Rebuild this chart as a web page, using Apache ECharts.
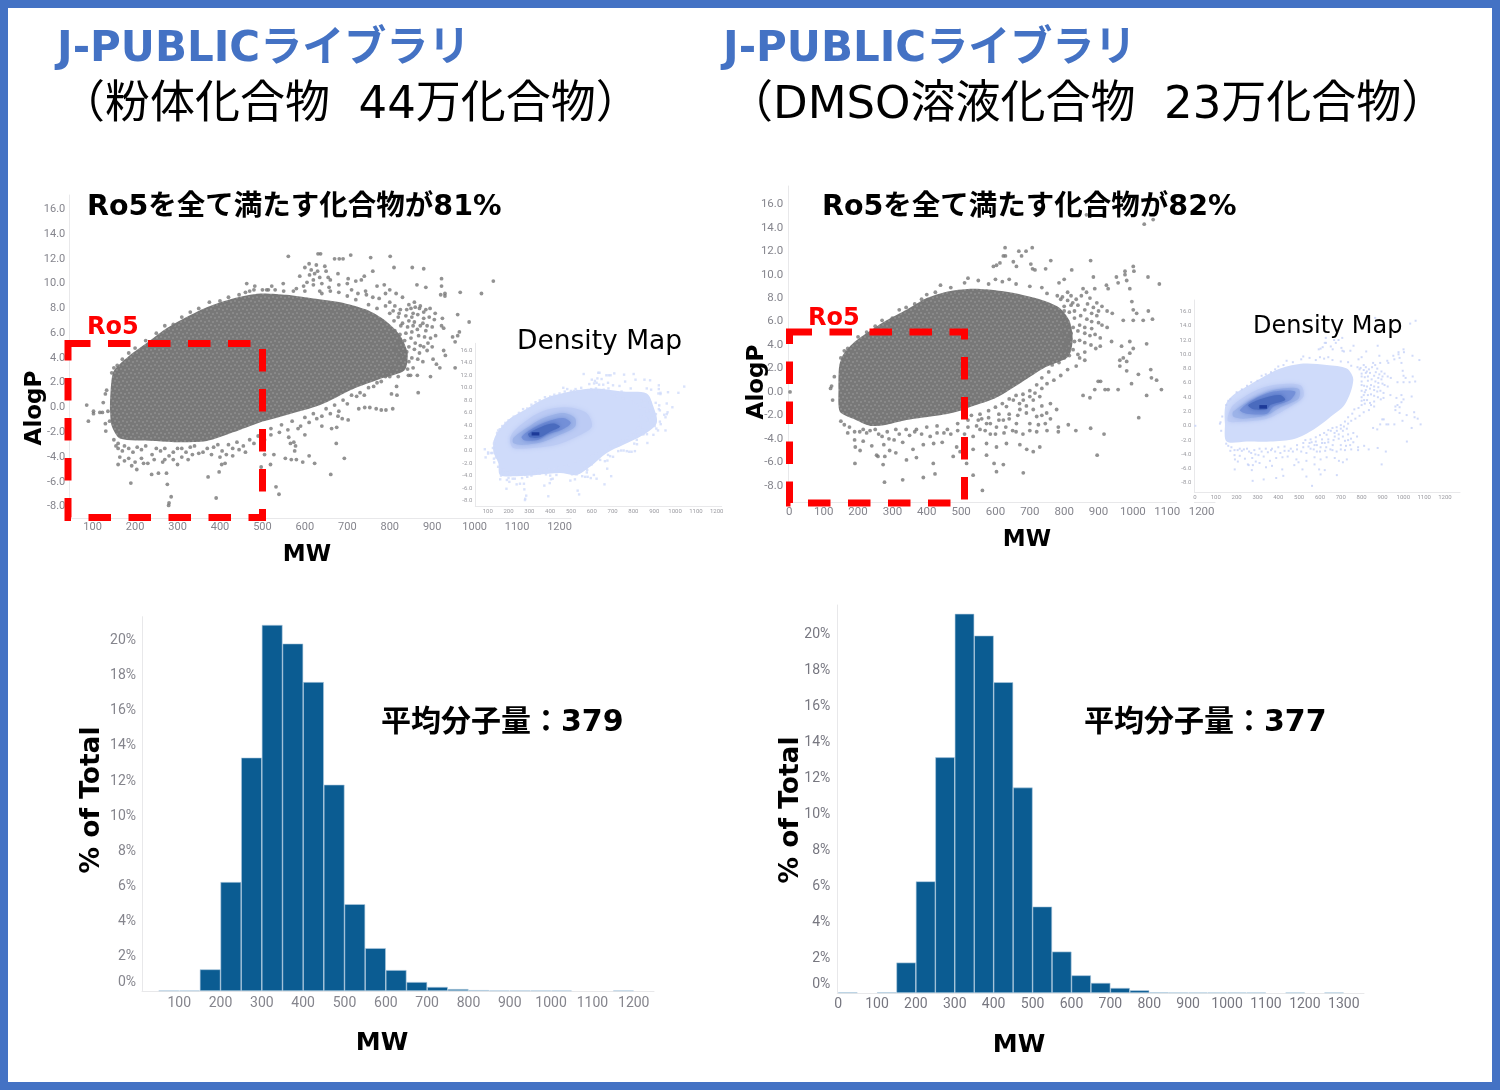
<!DOCTYPE html>
<html><head><meta charset="utf-8">
<script src="https://cdn.jsdelivr.net/npm/echarts@6/dist/echarts.min.js"></script>
<style>html,body{margin:0;padding:0;background:#fff}#c{width:1500px;height:1090px}</style>
</head><body><div id="c"></div>
<script>
// ---- values ----
const mwTicks = [100,200,300,400,500,600,700,800,900,1000,1100,1200];
const mwTicks0 = [0,100,200,300,400,500,600,700,800,900,1000,1100,1200];
const mwTicks13 = [0,100,200,300,400,500,600,700,800,900,1000,1100,1200,1300];
const logpTicks = [-8,-6,-4,-2,0,2,4,6,8,10,12,14,16];
const pctTicks = [0,2,4,6,8,10,12,14,16,18,20];

// histogram bins: [bin centre, % of total]
const histLeft = [[75,0.03],[125,0.03],[175,1.23],[225,6.2],[275,13.28],[325,20.83],[375,19.77],[425,17.58],[475,11.74],[525,4.94],[575,2.44],[625,1.19],[675,0.51],[725,0.23],[775,0.11],[825,0.05],[875,0.03],[925,0.03],[975,0.03],[1025,0.03],[1175,0.03]];
const histRight = [[25,0.04],[125,0.04],[175,1.69],[225,6.2],[275,13.09],[325,21.06],[375,19.85],[425,17.26],[475,11.41],[525,4.8],[575,2.3],[625,0.98],[675,0.56],[725,0.28],[775,0.15],[825,0.04],[875,0.03],[925,0.03],[975,0.03],[1025,0.03],[1075,0.03],[1175,0.03],[1275,0.03]];

// scatter cloud outlines [MW, AlogP]
const cloudLeft = [[142,1.16],[149,2.9],[180,4.0],[227,5.2],[270,6.3],[321,7.3],[369,8.1],[431,8.8],[494,9.2],[557,9.1],[620,8.8],[683,8.5],[745,7.9],[790,7.0],[825,5.8],[842,4.4],[835,3.0],[777,2.3],[714,1.5],[636,0.2],[557,-0.6],[494,-1.2],[431,-2.0],[369,-2.7],[298,-2.8],[243,-2.7],[164,-2.5],[145,-1.5],[141,-0.2]];
const cloudRight = [[145,2.2],[157,3.2],[191,4.3],[240,5.3],[283,6.1],[341,7],[400,8],[458,8.55],[526,8.8],[594,8.7],[661,8.4],[729,7.9],[785,7.2],[815,6.1],[825,4.5],[812,3],[745,2.1],[691,1.1],[632,0.0],[594,-0.6],[535,-1.2],[487,-1.7],[438,-2.0],[341,-2.4],[283,-2.8],[235,-2.9],[186,-2.3],[147,-1.7],[143,0.2]];

// individually visible points [MW, AlogP]
const pointsLeft = [[561,12.2],[631,12.4],[637,12.4],[670,12],[681,12],[690,12],[708,12.3],[755,12.1],[801,12.2],[810,11.3],[853,11.3],[880,11.2],[922,10.4],[922,9.8],[885,9.7],[864,9.9],[920,9.1],[930,9.2],[930,9],[966,9.3],[1016,9.2],[1044,10.2],[960,7.5],[987,6.9],[924,7.2],[922,6.6],[927,6.4],[907,7.6],[908,5.8],[948,5.7],[960,5.8],[954,5.3],[964,6.1],[927,4.6],[931,4.2],[902,3.9],[910,3.5],[918,3.2],[954,3.2],[896,2.5],[867,1.2],[844,2.6],[849,2.6],[865,2.6],[800,2.5],[820,2.5],[816,1.7],[804,1.1],[817,1.0],[727,-0.1],[741,0],[753,0],[768,-0.1],[780,-0.2],[791,-0.2],[807,-0.1],[702,-1],[688,-0.9],[678,-0.7],[640,-1.5],[663,-1.7],[675,-1.6],[693,-4.1],[674,-2.9],[623,-4.5],[661,-5.4],[595,-4.4],[610,-3.9],[580,-4.2],[568,-4.2],[554,-4.1],[574,-2.8],[578,-3.1],[576,-3.5],[600,-2.2],[584,-1.7],[566,-2.9],[562,-2.4],[539,-7],[532,-6.4],[519,-4.6],[497,-4.8],[527,-3.8],[505,-3.8],[391,-7.3],[372,-5.6],[398,-5.2],[404,-4.6],[412,-4.5],[280,-7.7],[279,-7.9],[285,-7.2],[276,-6.2],[190,-6.1],[160,-4.6],[192,-4.7],[204,-5],[239,-5.4],[255,-5.3],[274,-5.3],[164,-4],[200,-4.4],[220,-4.5],[430,-3.9],[400,-4],[380,-3.8],[90,-1.1],[86,0.2],[102,-0.3],[102,-0.5],[117,-0.4],[123,-0.4],[125,0.4],[130,-1.3],[131,-1.9],[140,-1.1],[136,-0.3],[133,1.4],[130,1.1],[463,10],[482,9.8],[514,9.5],[522,9.8],[549,10],[588,10.6],[600,11.3],[615,11.1],[627,11.5],[647,11.4],[611,10.7],[623,10.8],[635,10.5],[655,10.5],[678,10.8],[702,10.4],[733,10.3],[760,11],[787,9.9],[743,9.4],[680,9.9],[657,9.7],[635,9.4],[620,9.9],[597,9.8],[573,9.4],
[145,2.8],[150,3.2],[158,3.4],[170,3.9],[185,4.4],[200,4.8],[225,5.4],[250,6],[270,6.6],[290,6.7],[310,7.3],[330,7.7],[350,8],[375,8.5],[400,8.6],[420,8.9],[445,9.1],[470,9.4],[500,9.5],[530,9.5],[700,9],[720,8.7],[750,8.3],[770,8],[790,8.2],[800,7.6],[820,7.3],[830,6.8],[840,7.9],[850,8],[855,7.6],[860,8.1],[870,8],[880,7.7],[845,7],[855,6.6],[865,6.3],[878,6.8],[885,6.2],[890,5.2],[880,4.9],[870,4.4],[860,5.2],[850,5.6],[835,5.4],[825,4.8],[835,4],[845,3.7],[855,3.2],[820,3.6],[805,3.2],[790,2.5],[770,2],[750,1.6],[730,1.2],[710,1],[690,0.6],[670,0.2],[650,-0.1],[620,-0.5],[600,-0.8],[570,-1.1],[545,-1.4],[520,-1.7],[490,-2.3],[470,-2.6],[440,-2.8],[420,-3],[395,-3],[370,-3.3],[340,-3.1],[320,-3.6],[300,-3.3],[280,-3.9],[260,-3.5],[240,-3.8],[215,-3.4],[195,-3.6],[175,-3.1],[160,-2.9],[150,-2.6],[230,-4.5],[265,-4.4],[290,-4.2],[310,-4],[350,-3.7],[160,-3.3]];
const fringeLeft = [[800,8.5],[812,8.2],[825,7.9],[845,8.3],[858,8.5],[872,8.2],[885,7.9],[895,8],[808,7.8],[822,7.6],[838,7.4],[852,7.3],[866,7.5],[880,7.2],[893,7.3],[905,7.1],[810,7],[826,6.6],[842,6.5],[858,6.9],[872,6.6],[888,6.6],[900,6.5],[812,6.2],[824,5.9],[838,6],[852,6.1],[868,5.8],[882,5.7],[896,5.6],[806,5.5],[820,5.3],[845,4.9],[858,4.7],[872,5],[888,4.6],[900,4.9],[812,4.7],[822,4.3],[840,4.5],[852,4],[866,3.9],[878,3.7],[828,3.2],[842,3.1],[810,2.9],[795,2.9],[780,2.1],[762,1.7],[740,1],[722,0.9],[700,0.3],[680,-0.3],[660,-0.5],[640,-0.7],[628,-0.9],[610,-1.2],[590,-1.5],[560,-1.8],[540,-2],[520,-2.2],[505,-2.6],[480,-2.9],[455,-3.1],[430,-3.3],[405,-3.5],[385,-3.2],[360,-3.6],[335,-3.8],[310,-3.3],[290,-3.6],[270,-3.3],[250,-3.3],[225,-3.1],[205,-3.2],[185,-3.3],[170,-3.5],[155,-3.1],[325,-4.2],[270,-4.2],[245,-4.2],[215,-4.1],[185,-4.1],[175,-4.3],[300,-4.6],[330,-3.2],[460,-3.6],[445,-3.4],[415,-3.8],[640,9.2],[660,9.4],[680,9.3],[710,9.5],[725,9.2],[745,9.1],[760,8.9],[775,8.8],[790,9.2],[800,9.5],[815,9.2],[830,8.9],[600,9.4],[580,9.6],[550,9.4],[510,9.5],[480,9.5],[460,9.3],[700,10],[720,10.2],[740,10.6],[770,9.8],[660,10.3],[640,10],[620,10.3],[605,10.1],[650,11],[630,11],[610,11.6]];

const pointsRight = [[1033,14.3],[1059,14.7],[865,15.1],[628,12.3],[668,12],[689,12],[707,12.3],[623,11.6],[629,11.6],[594,10.7],[603,10.8],[613,11],[652,11.1],[661,10.7],[676,11.6],[703,10.9],[708,10.5],[715,10.4],[746,10.5],[761,11.2],[822,10.4],[877,11.2],[885,9.8],[889,8.8],[923,9.1],[928,8.8],[952,9.8],[957,9.3],[982,9.5],[977,10.3],[977,10],[1001,10.7],[1003,10.3],[1044,9.8],[1077,9.2],[991,8.8],[997,7.7],[1001,7],[1011,6.7],[1045,6.9],[1057,6.2],[972,6.1],[1001,6.1],[1030,6.1],[938,4.3],[967,3.9],[991,4.3],[1040,4.1],[1001,3.7],[991,3.3],[972,2.9],[962,2.7],[982,2.6],[962,2.2],[982,1.8],[1016,1.5],[1052,1.9],[1054,1.2],[1069,1],[1083,0.2],[1040,-0.3],[996,0.7],[1017,-2.2],[957,0.2],[919,0.2],[928,0.2],[899,0.9],[906,0.9],[889,0.2],[875,-0.5],[855,-0.3],[916,-3.6],[896,-5.4],[877,-3.1],[834,-3.3],[812,-2.8],[783,-3],[783,-3.4],[681,-6.9],[562,-8.4],[623,-6.2],[603,-6.8],[596,-6.1],[535,-7.1],[424,-7],[390,-7.3],[330,-7.5],[277,-7.7],[191,-6.1],[273,-6.2],[419,-6.1],[370,-5.6],[341,-5.8],[254,-5.4],[278,-5.5],[258,-5.5],[292,-5],[206,-5],[192,-4.7],[131,1.3],[123,0.5],[120,0.3],[126,-0.7],[2,0],
[632,-1.25],[652,-0.7],[681,-0.7],[671,-1.5],[710,-0.7],[729,-0.4],[749,-1.8],[778,-1.5],[720,-2.1],[700,-2.7],[661,-2.7],[623,-2.4],[603,-3],[574,-2.7],[555,-3.2],[535,-3.8],[574,-4.4],[603,-4.7],[632,-4.4],[671,-4.5],[691,-4.9],[729,-4.7],[710,-5.1],[574,-5.4],[535,-4.9],[487,-4.7],[477,-5.5],[516,-6.1],[497,-5.1],[640,-1.9],[690,-1.8],[735,-1.2],[760,-1],[660,-3.4],[625,-3.5],[585,-3.6],[750,-3.3],[720,-3.4],
[150,2.9],[160,3.5],[170,3.7],[200,4.7],[225,5.1],[250,5.6],[270,6.1],[300,6.3],[320,7],[340,7.2],[365,7.5],[385,7.9],[400,8.3],[425,8.5],[440,9.1],[470,8.9],[510,9.3],[520,9.7],[550,9.5],[580,9.2],[600,9.6],[620,9.4],[640,9.6],[660,9.2],[700,9],[735,8.9],[750,8.4],[780,8.2],[790,7.9],[800,9.6],[785,9.3],[810,8.5],[820,8.2],[835,7.9],[855,8.8],[820,7.4],[800,6.9],[830,6.9],[860,7],[880,6.7],[900,6.9],[900,5.9],[880,5.4],[860,5.5],[840,5.2],[820,5],[800,5.7],[810,4.3],[800,3.5],[815,3.1],[840,3.2],[860,3.4],[860,2.7],[835,2.2],[810,1.9],[790,1.4],[770,1],[750,0.7],[735,0.3],[715,-0.1],[700,-0.4],[670,-1],[610,-1.9],[580,-2.2],[550,-2.4],[520,-2.4],[490,-2.7],[460,-3.2],[430,-2.9],[400,-3],[370,-3.2],[350,-3.7],[320,-3.6],[290,-4],[270,-3.8],[250,-3.2],[225,-3.5],[205,-3.4],[190,-4.1],[170,-3.5],[160,-2.8],[150,-2.5]];
const fringeRight = [[795,8.1],[810,7.8],[825,7.6],[840,7.4],[850,8.2],[865,8.5],[875,8],[868,7.5],[885,7.2],[895,7.6],[910,7.3],[925,6.9],[940,6.7],[800,7.3],[815,6.8],[830,6.3],[848,6.5],[866,6.2],[880,6],[895,6.5],[910,5.7],[925,5.5],[800,6.2],[812,5.6],[826,5.5],[845,5.7],[860,5],[875,4.8],[890,4.9],[905,4.6],[800,4.9],[815,4.7],[830,4.3],[845,4.4],[860,4.2],[878,4],[892,3.7],[905,3.9],[800,4],[812,3.6],[826,3.6],[845,2.9],[800,2.9],[785,2.5],[765,2.3],[755,1.7],[735,1.2],[720,0.6],[700,0.1],[680,-0.2],[660,-0.3],[640,-0.6],[620,-1],[600,-1.3],[580,-1.6],[555,-1.9],[530,-2],[560,-2.3],[585,-2.7],[610,-2.4],[640,-2.3],[665,-2],[690,-1.2],[710,-1.5],[735,-2],[760,-2.3],[745,-2.7],[725,-2.8],[700,-3.3],[680,-3.6],[650,-3.3],[630,-3],[600,-3.6],[570,-3.3],[545,-2.9],[520,-3],[510,-3.6],[490,-3.3],[470,-3.6],[450,-3.5],[430,-3.5],[410,-3.8],[385,-3.6],[365,-3.4],[340,-3.2],[310,-3.2],[285,-3.4],[260,-3.6],[235,-3.3],[215,-3.2],[190,-3.4],[175,-3],[305,-4.1],[330,-4.3],[275,-4.5],[240,-4.6],[215,-4.2],[445,-4.3],[420,-4.4],[390,-4.5],[360,-4.9],[310,-5.2]];

// density map bands, outermost first [MW, AlogP]
const densColors = ['#cfdbfa','#bccbf4','#9db3e8','#7490d8','#4a6bbe','#1d3a98'];
const densLeft = [
 [[127,-0.16],[135,2.2],[199,4.9],[279,6.5],[383,8.4],[496,9.4],[608,9.9],[752,9.4],[864,9.1],[896,7],[912,4.4],[848,2.5],[752,0.9],[672,-0.4],[592,-2.6],[527,-3.9],[447,-3.6],[335,-3.9],[239,-4.1],[159,-3.9],[151,-2]],
 [[207,1.7],[223,3.0],[303,5.2],[383,6.5],[479,6.9],[575,6],[600,3.8],[527,2.2],[431,0.9],[319,0.4],[223,0.4]],
 [[223,2],[287,3.6],[367,5.2],[463,6],[519,5.2],[519,3.8],[447,2.5],[367,1.4],[271,0.9],[223,1.2]],
 [[263,2.2],[319,3.6],[383,4.6],[463,5.2],[499,4.4],[455,3.3],[383,2.5],[343,1.7],[279,1.6]],
 [[295,2.7],[359,3.8],[415,4.3],[447,3.8],[399,3],[351,2.1],[303,2.1]],
 [[311,2.9],[348,2.9],[348,2.4],[311,2.4]]];
const densRight = [
 [[147,2.9],[184,4.3],[248,5.5],[313,6.6],[409,8],[521,8.7],[633,8.5],[729,8],[760,6.4],[720,3],[640,1],[570,-0.5],[480,-1.8],[361,-2.2],[248,-2.2],[152,-2.2],[144,0.3]],
 [[160,1.5],[184,2.9],[281,4.8],[377,5.7],[505,5.7],[521,4.1],[441,2.4],[345,1],[232,0.6],[160,0.6]],
 [[184,2],[281,3.8],[377,5],[497,5.2],[497,3.8],[417,2.7],[345,1.5],[232,1],[184,1.3]],
 [[216,2.2],[289,3.8],[377,4.8],[481,4.8],[457,3.6],[377,2.7],[345,1.7],[248,1.7]],
 [[256,2.9],[321,3.8],[409,4.3],[433,3.6],[361,2.9],[345,2.3],[281,2.3]],
 [[309,2.9],[346,2.9],[346,2.4],[309,2.4]]];

// ---- drawing ----
const AX = 'Roboto, sans-serif';
const JP = '"DejaVu Sans","Noto Sans CJK JP", sans-serif';
const grey = '#85858d';
const axisLineColor = '#e8e8ea';
const plain = v => String(v);

function xAxisFor(i, min, max, ticks, size, margin, color){
  return {gridIndex:i,type:'value',min,max,splitLine:{show:false},axisTick:{show:false},
    axisLine:{show:true,onZero:false,lineStyle:{color:axisLineColor,width:1}},
    axisLabel:{customValues:ticks,fontFamily:AX,fontSize:size,color:color||grey,margin,hideOverlap:false,formatter:plain}};
}
function yAxisFor(i, min, max, ticks, size, margin, fmt, color, pad){
  return {gridIndex:i,type:'value',min,max,splitLine:{show:false},axisTick:{show:false},
    axisLine:{show:true,onZero:false,lineStyle:{color:axisLineColor,width:1}},
    axisLabel:{customValues:ticks,fontFamily:AX,fontSize:size,color:color||grey,margin,formatter:fmt,hideOverlap:false,padding:pad||0}};
}
const oneDec = v => v.toFixed(1);
function grid(l,t,r,b){return {left:l,top:t,width:r-l,height:b-t,containLabel:false};}

function polygonSeries(i, pts, fill, smooth, blur){
  return {type:'custom',xAxisIndex:i,yAxisIndex:i,coordinateSystem:'cartesian2d',silent:true,clip:true,
    data:pts,
    renderItem:function(params,api){
      if(params.dataIndex!==0) return null;
      return {type:'polygon',shape:{points:pts.map(p=>api.coord(p)),smooth:smooth},
        style:{fill:fill,shadowBlur:blur||0,shadowColor:blur?fill:'transparent'}};
    },
    encode:{x:0,y:1}};
}
function pointSeries(i, pts, color, size, sym){
  return {type:'scatter',xAxisIndex:i,yAxisIndex:i,data:pts,symbol:sym||'circle',symbolSize:size,
    itemStyle:{color:color},silent:true,animation:false};
}
function histSeries(i, data, w){
  return {type:'bar',xAxisIndex:i,yAxisIndex:i,data:data,barWidth:w,silent:true,
    itemStyle:{color:'#0b5c92',borderColor:'#b4cde0',borderWidth:0.6}};
}
function pctFmt(v){return v===0?'{z|0%}':v+'%';}
function pctLabel(ax){
  ax.axisLabel.formatter=pctFmt;
  ax.axisLabel.rich={z:{fontFamily:AX,fontSize:ax.axisLabel.fontSize,color:ax.axisLabel.color,padding:[0,0,20,0]}};
  return ax;
}

// stipple tile for the dense clouds
const tile=document.createElement('canvas');tile.width=tile.height=8;
(function(){const g=tile.getContext('2d');g.fillStyle='#787878';g.fillRect(0,0,8,8);
 g.fillStyle='rgba(175,175,175,0.75)';[[1,1],[5,2],[3,5],[7,6]].forEach(p=>{g.beginPath();g.arc(p[0],p[1],0.8,0,7);g.fill();});})();
const stipple={image:tile,repeat:'repeat'};

function txt(text,x,y,font,fill,align,rot){
  return {type:'text',x:x,y:y,z:100,rotation:rot||0,silent:true,
    style:{text:text,font:font,fill:fill||'#000',textAlign:align||'left',textVerticalAlign:'middle'}};
}
const blue='#4472c4';
const B='"DejaVu Sans"';
const graphics=[
 {type:'rect',z:0,silent:true,shape:{x:4,y:4,width:1492,height:1082},style:{fill:'none',stroke:blue,lineWidth:8}},
 {type:'rect',z:60,silent:true,shape:{x:1177,y:500,width:17,height:5},style:{fill:'#fff'}},
 txt('J-PUBLICライブラリ',57,50,'bold 42px '+JP,blue),
 txt('J-PUBLICライブラリ',723,50,'bold 42px '+JP,blue),
 txt('（粉体化合物  44万化合物）',60,106,'45px '+JP),
 txt('（DMSO溶液化合物  23万化合物）',728,106,'45px '+JP),
 txt('Ro5を全て満たす化合物が81%',87,207.5,'bold 28.5px '+JP),
 txt('Ro5を全て満たす化合物が82%',822,207.5,'bold 28.5px '+JP),
 txt('Ro5',87,328,'bold 24px '+B,'#ff0000'),
 txt('Ro5',808,319,'bold 24px '+B,'#ff0000'),
 txt('Density Map',517,342,'26.5px '+B),
 txt('Density Map',1253,327,'24px '+B),
 txt('AlogP',35,408,'bold 23px '+B,'#000','center',Math.PI/2),
 txt('AlogP',757,382,'bold 23px '+B,'#000','center',Math.PI/2),
 txt('MW',307,555,'bold 23px '+B,'#000','center'),
 txt('MW',1027,540,'bold 23px '+B,'#000','center'),
 txt('MW',382,1043,'bold 25px '+B,'#000','center'),
 txt('MW',1019,1045,'bold 25px '+B,'#000','center'),
 txt('% of Total',92,800,'bold 26.5px '+B,'#000','center',Math.PI/2),
 txt('% of Total',791,810,'bold 26.5px '+B,'#000','center',Math.PI/2),
 txt('平均分子量：379',381,723,'bold 30px '+JP),
 txt('平均分子量：377',1084,723,'bold 30px '+JP),
 {type:'rect',z:90,silent:true,shape:{x:68,y:343.5,width:194.5,height:174},style:{fill:'none',stroke:'#ff0000',lineWidth:7,lineDash:[22.5,17.5]}},
 {type:'rect',z:90,silent:true,shape:{x:789.5,y:332,width:175,height:171},style:{fill:'none',stroke:'#ff0000',lineWidth:7,lineDash:[22.5,17.5]}}
];

const option={
  animation:false,backgroundColor:'#fff',
  grid:[
    grid(69.3,195,571,518.3),       // 0 scatter left
    grid(475.3,343.3,721.7,506.3),  // 1 density left
    grid(788.3,186,1215,502.7),     // 2 scatter right
    grid(1194.3,300,1460,492),      // 3 density right
    grid(142,616.7,654,991),        // 4 hist left
    grid(837.3,605,1364,993)        // 5 hist right
  ],
  xAxis:[
    xAxisFor(0,45,1227,mwTicks,11,3),
    xAxisFor(1,40.4,1224,mwTicks,6,2,'#9a9aa0'),
    xAxisFor(2,-3,1239,mwTicks0,11.5,3),
    xAxisFor(3,-3,1272,mwTicks0,6,2,'#9a9aa0'),
    xAxisFor(4,10,1249,mwTicks,14,5),
    xAxisFor(5,-2,1352,mwTicks13,14,4,'#777780')
  ],
  yAxis:[
    yAxisFor(0,-8.94,17.15,logpTicks,11,4,oneDec,grey,[2,0,0,0]),
    yAxisFor(1,-8.9,17.1,logpTicks,6,3,oneDec,'#9a9aa0'),
    yAxisFor(2,-9.45,17.56,logpTicks,11.5,5,oneDec,grey,[2,0,0,0]),
    yAxisFor(3,-9.26,17.6,logpTicks,6,3,oneDec,'#9a9aa0'),
    pctLabel(yAxisFor(4,0,21.3,pctTicks,14,6,null,grey,[2,0,0,0])),
    pctLabel(yAxisFor(5,0,21.55,pctTicks,14,7,null,'#777780',[3,0,0,0]))
  ],
  series:[
    polygonSeries(0,cloudLeft,stipple,0.25),
    pointSeries(0,pointsLeft.concat(fringeLeft),'#777',3.8),
    polygonSeries(2,cloudRight,stipple,0.25),
    pointSeries(2,pointsRight.concat(fringeRight),'#777',3.8),
    ...densLeft.map((p,k)=>polygonSeries(1,p,densColors[k],k===5?0:0.3,k===0||k===5?0:5)),
    pointSeries(1,pointsLeft,densColors[0],2.4,'rect'),
    ...densRight.map((p,k)=>polygonSeries(3,p,densColors[k],k===5?0:0.3,k===0||k===5?0:5)),
    pointSeries(3,pointsRight.concat(fringeRight),'#c4d1f7',2,'rect'),
    histSeries(4,histLeft,20.7),
    histSeries(5,histRight,19.5)
  ],
  graphic:{elements:graphics}
};
const chart=echarts.init(document.getElementById('c'),null,{renderer:'canvas'});
chart.setOption(option);
</script></body></html>
